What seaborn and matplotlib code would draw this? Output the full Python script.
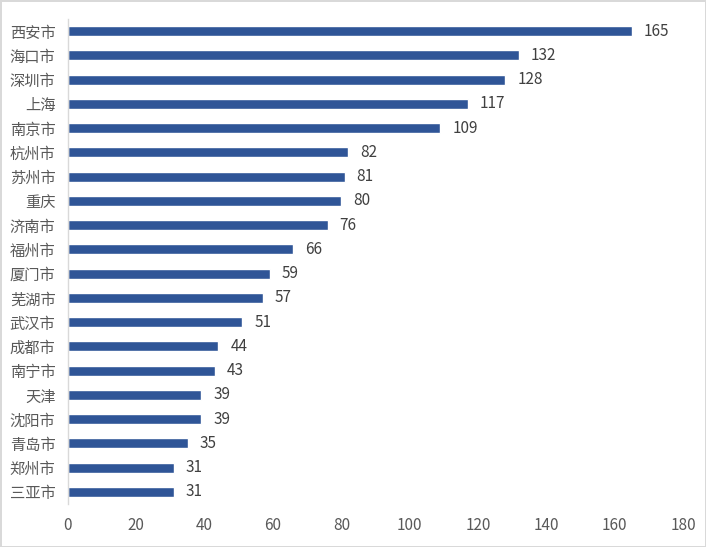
import pandas as pd
import matplotlib.pyplot as plt
import seaborn as sns

cities = ["西安市", "海口市", "深圳市", "上海", "南京市", "杭州市", "苏州市", "重庆", "济南市", "福州市",
          "厦门市", "芜湖市", "武汉市", "成都市", "南宁市", "天津", "沈阳市", "青岛市", "郑州市", "三亚市"]
values = [165, 132, 128, 117, 109, 82, 81, 80, 76, 66, 59, 57, 51, 44, 43, 39, 39, 35, 31, 31]
x_ticks = [0, 20, 40, 60, 80, 100, 120, 140, 160, 180]


def main():
    sns.set_theme(style="white")
    plt.rcParams['font.family'] = ['Noto Sans CJK SC', 'DejaVu Sans']

    df = pd.DataFrame({"city": cities, "value": values})

    fig = plt.figure(figsize=(7.06, 5.47), dpi=100)
    fig.patch.set_edgecolor("#d9d9d9")
    fig.patch.set_linewidth(2)
    ax = fig.add_axes([0.0963, 0.0786, 0.8711, 0.8867])

    sns.barplot(data=df, x="value", y="city", orient="h", color="#2F5597",
                width=0.42, saturation=1, ax=ax)

    for i, v in enumerate(values):
        ax.text(v + 3.5, i, str(v), va="center", ha="left", fontsize=11, color="#404040")

    ax.set_xlim(0, 180)
    ax.set_ylim(len(cities) - 0.5, -0.5)
    ax.set_xticks(x_ticks)
    ax.set_xlabel("")
    ax.set_ylabel("")
    ax.tick_params(axis="both", length=0, labelsize=11, colors="#595959")
    ax.tick_params(axis="x", pad=9)
    ax.tick_params(axis="y", pad=9)

    for side in ["top", "right", "bottom"]:
        ax.spines[side].set_visible(False)
    ax.spines["left"].set_color("#d9d9d9")
    ax.spines["left"].set_linewidth(1)

    fig.savefig("out.png", dpi=100, edgecolor=fig.get_edgecolor())


if __name__ == "__main__":
    main()
